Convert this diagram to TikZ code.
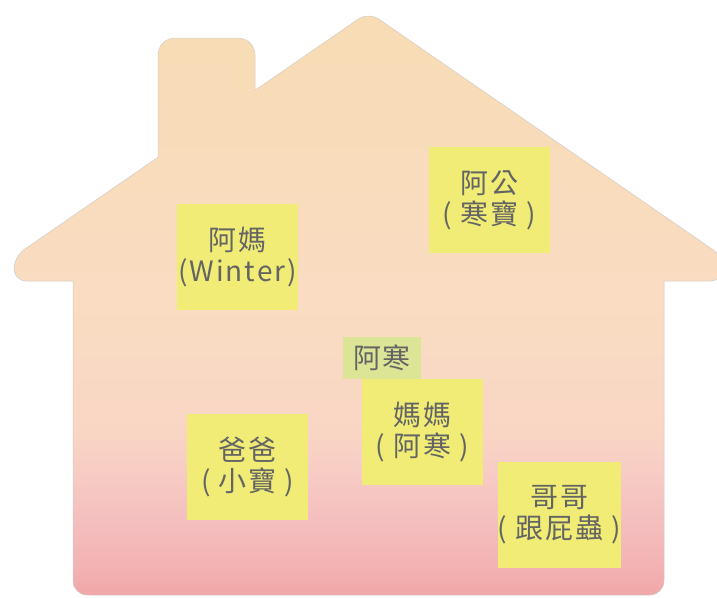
\documentclass[tikz,border=0pt]{standalone}
\usepackage{fontspec}
\newfontfamily\cjkfont[LetterSpace=7]{Noto Sans CJK TC}
\definecolor{hc0}{RGB}{241,167,168}
\definecolor{hc1}{RGB}{243,179,180}
\definecolor{hc2}{RGB}{244,190,190}
\definecolor{hc3}{RGB}{247,204,196}
\definecolor{hc4}{RGB}{249,214,196}
\definecolor{hc5}{RGB}{249,220,194}
\definecolor{hc6}{RGB}{248,220,180}
\definecolor{noteyellow}{RGB}{240,236,118}
\definecolor{labelgreen}{RGB}{220,228,150}
\definecolor{textgray}{RGB}{100,100,100}
\definecolor{houseedge}{RGB}{210,204,198}
\pgfdeclareverticalshading{house}{100bp}{color(0bp)=(hc0); color(25bp)=(hc0); color(27.8bp)=(hc1); color(31.2bp)=(hc2); color(35.5bp)=(hc3); color(39bp)=(hc4); color(50bp)=(hc5); color(75bp)=(hc6); color(100bp)=(hc6)}
\begin{document}
\begin{tikzpicture}[x=1pt,y=-1pt,
  notebox/.style={fill=noteyellow, minimum width=121pt, minimum height=106pt, inner sep=0pt, align=center, text=textgray, font=\cjkfont\fontsize{28}{31}\selectfont},
  labelbox/.style={fill=labelgreen, minimum width=78pt, minimum height=42pt, inner sep=0pt, text=textgray, font=\cjkfont\fontsize{28}{31}\selectfont}]
\useasboundingbox (0,0) rectangle (717,597);
\path[shade, shading=house, draw=houseedge, line width=0.5pt]
  (368.5,595) [rounded corners=14pt] -- (664,595) [sharp corners] -- (664,281)
  [rounded corners=12pt] -- (723,281) -- (723,256.6) -- (368.5,12)
  [sharp corners] -- (255,90.3) [rounded corners=17pt] -- (255,38) -- (158,38)
  [sharp corners] -- (158,157.2) [rounded corners=12pt] -- (14,256.6) -- (14,281)
  [sharp corners] -- (73,281) [rounded corners=14pt] -- (73,595) [sharp corners] -- cycle;
\node[notebox] (ama) at (237.5,257) {阿媽\\(Winter)};
\node[notebox] (agong) at (489.5,200) {阿公\\( 寒寶 )};
\node[labelbox] (ahan) at (382,358) {阿寒};
\node[notebox] (mama) at (422.5,432) {媽媽\\( 阿寒 )};
\node[notebox] (baba) at (247.7,467) {爸爸\\( 小寶 )};
\node[notebox] (gege) at (559.5,515) {哥哥\\( 跟屁蟲 )};
\end{tikzpicture}
\end{document}
